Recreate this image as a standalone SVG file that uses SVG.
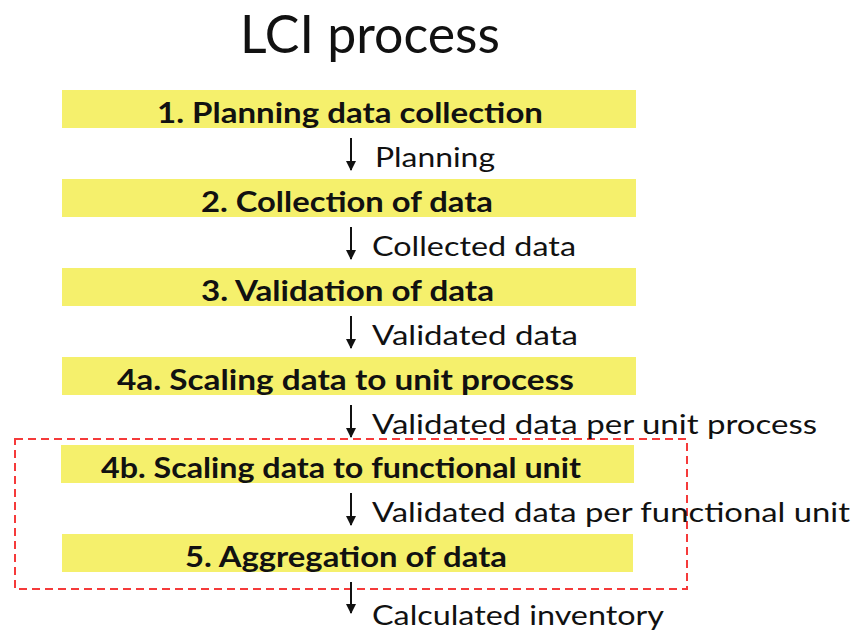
<svg xmlns="http://www.w3.org/2000/svg" width="857" height="631" viewBox="0 0 857 631">
<style>
.bar{fill:#F5F06C}
.bt{font-family:Lato,"Open Sans","Liberation Sans",sans-serif;font-weight:bold;font-size:28px;fill:#111}
.lt{font-family:Lato,"Open Sans","Liberation Sans",sans-serif;font-size:27px;fill:#111}
.ttl{font-family:Lato,"Open Sans","Liberation Sans",sans-serif;font-size:53px;fill:#111}
.arr{stroke:#111;stroke-width:2;fill:none}
</style>
<defs>
<marker id="ah" markerWidth="10" markerHeight="12" refX="9" refY="5" orient="auto" markerUnits="userSpaceOnUse">
<path d="M0,0 L10,5 L0,10 Z" fill="#111"/>
</marker>
</defs>
<rect width="857" height="631" fill="#fff"/>
<text class="ttl" x="240" y="53" textLength="260" lengthAdjust="spacingAndGlyphs">LCI process</text>
<g id="frame">
<rect x="15" y="439" width="672" height="150" fill="none" stroke="#F53A3A" stroke-width="2" stroke-dasharray="8 5"/>
</g>
<g id="n1"><rect class="bar" x="62" y="90" width="574" height="38"/><text class="bt" x="157" y="123" textLength="386" lengthAdjust="spacingAndGlyphs">1. Planning data collection</text></g>
<g id="n2"><rect class="bar" x="62" y="179" width="574" height="38"/><text class="bt" x="201" y="212" textLength="292" lengthAdjust="spacingAndGlyphs">2. Collection of data</text></g>
<g id="n3"><rect class="bar" x="62" y="268" width="574" height="38"/><text class="bt" x="201" y="301" textLength="293" lengthAdjust="spacingAndGlyphs">3. Validation of data</text></g>
<g id="n4a"><rect class="bar" x="62" y="357" width="574" height="38"/><text class="bt" x="117" y="390" textLength="457" lengthAdjust="spacingAndGlyphs">4a. Scaling data to unit process</text></g>
<g id="n4b"><rect class="bar" x="61" y="445" width="573" height="38"/><text class="bt" x="101" y="478" textLength="480" lengthAdjust="spacingAndGlyphs">4b. Scaling data to functional unit</text></g>
<g id="n5"><rect class="bar" x="62" y="534" width="571" height="38"/><text class="bt" x="185" y="567" textLength="322" lengthAdjust="spacingAndGlyphs">5. Aggregation of data</text></g>
<g id="connectors">
<line class="arr" x1="351" y1="138" x2="351" y2="170" marker-end="url(#ah)"/>
<line class="arr" x1="351" y1="227" x2="351" y2="259" marker-end="url(#ah)"/>
<line class="arr" x1="351" y1="316" x2="351" y2="348" marker-end="url(#ah)"/>
<line class="arr" x1="351" y1="405" x2="351" y2="437" marker-end="url(#ah)"/>
<line class="arr" x1="351" y1="493" x2="351" y2="525" marker-end="url(#ah)"/>
<line class="arr" x1="351" y1="582" x2="351" y2="613" marker-end="url(#ah)"/>
<text class="lt" x="375" y="167" textLength="120" lengthAdjust="spacingAndGlyphs">Planning</text>
<text class="lt" x="372" y="256" textLength="204" lengthAdjust="spacingAndGlyphs">Collected data</text>
<text class="lt" x="372" y="345" textLength="206" lengthAdjust="spacingAndGlyphs">Validated data</text>
<text class="lt" x="372" y="434" textLength="445" lengthAdjust="spacingAndGlyphs">Validated data per unit process</text>
<text class="lt" x="372" y="522" textLength="478" lengthAdjust="spacingAndGlyphs">Validated data per functional unit</text>
<text class="lt" x="372" y="625" textLength="292" lengthAdjust="spacingAndGlyphs">Calculated inventory</text>
</g>
</svg>
